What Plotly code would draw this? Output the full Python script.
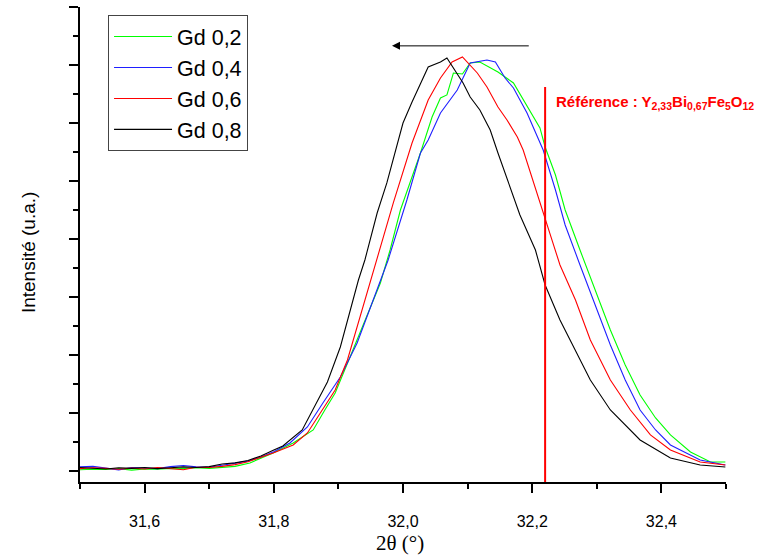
import plotly.graph_objects as go

# ---- data (2-theta in degrees, intensity in arbitrary units) ----
x_gd08 = [31.50, 31.52, 31.54, 31.56, 31.58, 31.60, 31.62, 31.64, 31.66, 31.68, 31.70, 31.72, 31.74, 31.76, 31.78, 31.80,
          31.814, 31.844, 31.883, 31.903, 31.918, 31.931, 31.941, 31.960, 31.975, 32.000, 32.014, 32.039, 32.058, 32.068,
          32.093, 32.104, 32.119, 32.135, 32.147, 32.181, 32.205, 32.220, 32.243, 32.267, 32.290, 32.321, 32.367, 32.414,
          32.460, 32.499]
y_gd08 = [60, 50, 35, 55, 45, 60, 40, 55, 70, 60, 75, 120, 140, 180, 260, 362,
          431, 707, 1534, 2138, 2776, 3293, 3638, 4448, 4966, 6000, 6362, 6966, 7052, 7121,
          6690, 6448, 6224, 5879, 5483, 4414, 3810, 3207, 2603, 2086, 1569, 1052, 534, 224,
          103, 69]

x_gd06 = [31.50, 31.52, 31.54, 31.56, 31.58, 31.60, 31.62, 31.64, 31.66, 31.68, 31.70, 31.72, 31.74, 31.76,
          31.799, 31.830, 31.852, 31.872, 31.895, 31.914, 31.929, 31.944, 31.960, 31.985, 32.014, 32.039, 32.058,
          32.076, 32.092, 32.115, 32.130, 32.147, 32.161, 32.177, 32.186, 32.220, 32.243, 32.267, 32.290, 32.321,
          32.352, 32.383, 32.414, 32.460, 32.499]
y_gd06 = [40, 55, 45, 30, 50, 35, 60, 45, 20, 65, 60, 80, 110, 160,
          310, 448, 655, 1000, 1396, 1914, 2483, 3069, 3672, 4621, 5655, 6397, 6776,
          7052, 7138, 6862, 6621, 6276, 6052, 5759, 5534, 4327, 3552, 2948, 2259, 1569,
          1052, 621, 362, 155, 103]

x_gd02 = [31.50, 31.52, 31.54, 31.56, 31.58, 31.60, 31.62, 31.64, 31.66, 31.68, 31.70, 31.72, 31.74,
          31.763, 31.799, 31.830, 31.861, 31.879, 31.895, 31.918, 31.944, 31.965, 31.980, 31.996, 32.027, 32.045,
          32.058, 32.068, 32.078, 32.092, 32.104, 32.119, 32.147, 32.171, 32.212, 32.220, 32.236, 32.251, 32.274,
          32.298, 32.321, 32.344, 32.367, 32.391, 32.414, 32.445, 32.476, 32.499]
y_gd02 = [20, 30, 25, 40, 15, 35, 30, 45, 40, 55, 45, 60, 80,
          138, 310, 483, 707, 1052, 1345, 1966, 2655, 3241, 3810, 4500, 5483, 6103,
          6431, 6483, 6862, 6845, 7034, 7052, 6879, 6690, 5914, 5586, 5103, 4500, 3810,
          3121, 2431, 1828, 1310, 914, 621, 328, 155, 155]

x_gd04 = [31.50, 31.52, 31.54, 31.56, 31.58, 31.60, 31.62, 31.64, 31.66, 31.68, 31.70, 31.72, 31.74, 31.76, 31.78, 31.80,
          31.825, 31.852, 31.876, 31.903, 31.929, 31.954, 31.977, 32.006, 32.027, 32.039, 32.058, 32.084, 32.104,
          32.130, 32.143, 32.158, 32.171, 32.192, 32.217, 32.236, 32.251, 32.274, 32.298, 32.321, 32.344, 32.367,
          32.391, 32.414, 32.460, 32.499]
y_gd04 = [70, 80, 50, 20, 60, 55, 40, 75, 95, 70, 65, 100, 130, 170, 240, 330,
          483, 759, 1172, 1621, 2207, 2948, 3638, 4672, 5483, 5707, 6172, 6569, 7034,
          7086, 7052, 6776, 6603, 6172, 5534, 4845, 4241, 3552, 2862, 2172, 1569, 1052,
          707, 448, 190, 103]

series_names = ["Gd 0,2", "Gd 0,4", "Gd 0,6", "Gd 0,8"]
series_x = [x_gd02, x_gd04, x_gd06, x_gd08]
series_y = [y_gd02, y_gd04, y_gd06, y_gd08]
series_colors = ["#00ff00", "#1f1fff", "#ff0000", "#000000"]

ref_x = 32.22          # reference peak position Y2.33Bi0.67Fe5O12
ref_y_top = 6620
ref_label_y = 6345
arrow_from_x, arrow_to_x, arrow_y = 32.197, 31.983, 7330

x_range = [31.5, 32.5]
y_range = [-190, 8000]

fig = go.Figure()
for i, (name, xs, ys, col) in enumerate(zip(series_names, series_x, series_y, series_colors)):
    fig.add_trace(go.Scatter(x=xs, y=ys, mode="lines", name=name, legendgroup=f"g{i}",
                             line=dict(color=col, width=1.1)))

# reference line
fig.add_trace(go.Scatter(x=[ref_x, ref_x], y=[ref_y_top, y_range[0]], mode="lines",
                         line=dict(color="#ff0000", width=2), showlegend=False, hoverinfo="skip"))

fig.add_annotation(x=ref_x, y=ref_label_y, xref="x", yref="y", xanchor="left", xshift=9,
                   text="<b>Référence : Y<sub>2,33</sub>Bi<sub>0,67</sub>Fe<sub>5</sub>O<sub>12</sub></b>",
                   showarrow=False, font=dict(family="Liberation Sans, Arial", size=15, color="#ff0000"))

fig.add_annotation(x=arrow_to_x, y=arrow_y, ax=arrow_from_x, ay=arrow_y, xref="x", yref="y",
                   axref="x", ayref="y", text="", showarrow=True, arrowhead=2, arrowsize=1.6,
                   arrowwidth=1, arrowcolor="#000000")

# axis titles
fig.add_annotation(x=-0.0805, y=0.484, xref="paper", yref="paper", text="Intensité (u.a.)",
                   textangle=-90, showarrow=False, xanchor="center", yanchor="middle",
                   font=dict(family="Liberation Sans, Arial", size=19, color="black"))
fig.add_annotation(x=0.4956, y=-0.128, xref="paper", yref="paper", text="2θ (°)",
                   showarrow=False, xanchor="center", yanchor="middle",
                   font=dict(family="Liberation Serif, Times New Roman", size=21, color="black"))

axis_font = dict(family="Liberation Sans, Arial", size=16, color="#000000")
fig.update_layout(
    width=769, height=560,
    margin=dict(l=80, r=43, t=7, b=78, autoexpand=False),
    paper_bgcolor="white", plot_bgcolor="white",
    separators=", ",
    showlegend=True,
    hovermode=False,
    legend=dict(x=0.0434, y=0.983, xanchor="left", yanchor="top",
                bordercolor="#444444", borderwidth=1, bgcolor="white",
                font=dict(family="Liberation Sans, Arial", size=21.5, color="#000000"),
                tracegroupgap=0, itemwidth=58),
    xaxis=dict(range=x_range, tick0=31.6, dtick=0.2, tickformat=".1f", automargin=False,
               showline=True, linecolor="black", linewidth=2, mirror=False,
               ticks="outside", ticklen=9, tickwidth=2, tickcolor="black",
               minor=dict(dtick=0.1, tick0=31.5, ticks="outside", ticklen=5, tickwidth=2, tickcolor="black"),
               showgrid=False, zeroline=False, tickfont=axis_font, ticklabelstandoff=15),
    yaxis=dict(range=y_range, tick0=0, dtick=1000, showticklabels=False, automargin=False,
               showline=True, linecolor="black", linewidth=2,
               ticks="outside", ticklen=9, tickwidth=2, tickcolor="black",
               minor=dict(dtick=500, tick0=0, ticks="outside", ticklen=5, tickwidth=2, tickcolor="black"),
               showgrid=False, zeroline=False),
)

fig.write_html("out.html", config={"displayModeBar": False},
               post_script="document.body.style.margin='0';")
